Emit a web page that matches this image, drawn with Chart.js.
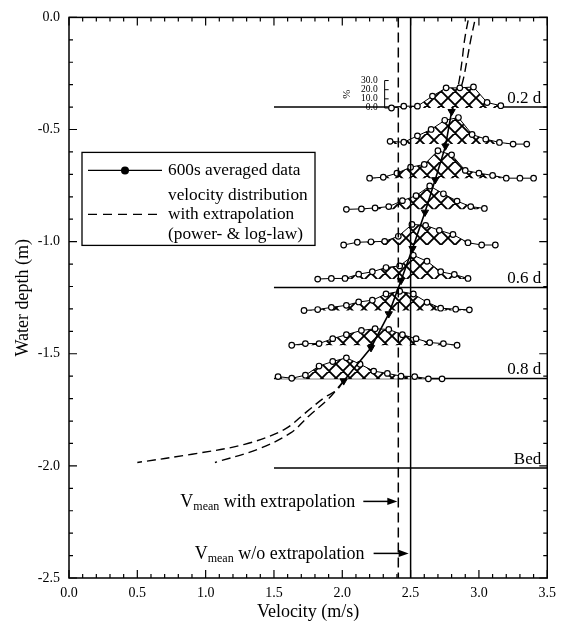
<!DOCTYPE html>
<html>
<head>
<meta charset="utf-8">
<script src="https://cdn.jsdelivr.net/npm/chart.js@4.4.0/dist/chart.umd.min.js"></script>
<style>
  html, body { margin: 0; padding: 0; background: #fff; }
  canvas { display: block; }
</style>
</head>
<body>
<canvas id="chart" width="563" height="626"></canvas>
<script>
const SERIF = '"Liberation Serif", "Times New Roman", serif';

// depth of each measured velocity distribution (m)
const rowDepths = [-0.404, -0.565, -0.717, -0.856, -1.015, -1.167, -1.307, -1.462, -1.612];

// velocity classes (m/s) of each distribution
const rowVelocities = [
  [2.36, 2.45, 2.55, 2.66, 2.76, 2.86, 2.96, 3.06, 3.16],
  [2.35, 2.45, 2.55, 2.65, 2.75, 2.85, 2.95, 3.05, 3.15, 3.25, 3.35],
  [2.20, 2.30, 2.40, 2.50, 2.60, 2.70, 2.80, 2.90, 3.00, 3.10, 3.20, 3.30, 3.40],
  [2.03, 2.14, 2.24, 2.34, 2.44, 2.54, 2.64, 2.74, 2.84, 2.94, 3.04],
  [2.01, 2.11, 2.21, 2.31, 2.41, 2.51, 2.61, 2.71, 2.81, 2.92, 3.02, 3.12],
  [1.82, 1.92, 2.02, 2.12, 2.22, 2.32, 2.42, 2.52, 2.62, 2.72, 2.82, 2.92],
  [1.72, 1.82, 1.92, 2.03, 2.12, 2.22, 2.32, 2.42, 2.52, 2.62, 2.72, 2.83, 2.93],
  [1.63, 1.73, 1.83, 1.93, 2.03, 2.14, 2.24, 2.34, 2.44, 2.54, 2.64, 2.74, 2.84],
  [1.53, 1.63, 1.73, 1.83, 1.93, 2.03, 2.13, 2.23, 2.33, 2.43, 2.53, 2.63, 2.73]
];

// share of samples in each velocity class (%)
const rowPercents = [
  [0, 2, 2, 13, 22, 22, 23, 6, 2.5],
  [3, 2, 9, 16, 26, 29, 10.5, 5.4, 1.8, 0, 0],
  [0, 1, 5.4, 12, 15, 30, 25.5, 8.5, 5.5, 3, 0, 0, 0],
  [0, 0.5, 1.5, 3, 9.5, 15, 25.5, 17, 9, 3, 1],
  [0, 3, 3.5, 4, 9.5, 22.5, 21.5, 16, 11.5, 2.5, 0, 0],
  [0, 0.7, 0.7, 5.4, 8, 12.6, 14.4, 26, 19.5, 8, 5, 0.7],
  [0, 1, 3.4, 5.6, 9.3, 11.2, 18, 21, 18, 9, 2.5, 1.4, 0.7],
  [0, 1.8, 1.8, 7.2, 11.5, 16.2, 18, 17.3, 11.5, 7.2, 2.9, 1.8, 0],
  [2.5, 0.7, 4, 14, 19, 23, 16, 8.5, 6, 3, 2.5, 0, 0]
];

// 600s averaged velocity profile
const meanVelocity = [2.80, 2.755, 2.68, 2.605, 2.514, 2.43, 2.34, 2.21, 2.01];
const meanDepth = [-0.420, -0.574, -0.724, -0.869, -1.031, -1.173, -1.322, -1.473, -1.621];

// extrapolation towards the surface and the bed (power- & log-law)
const surfacePowerV = [2.80, 2.85, 2.875, 2.895, 2.925];
const surfacePowerD = [-0.42, -0.30, -0.20, -0.10, 0.0];
const surfaceLogV = [2.80, 2.875, 2.91, 2.94, 2.975];
const surfaceLogD = [-0.42, -0.30, -0.20, -0.10, 0.0];
const bedPowerV = [2.01, 1.96, 1.863, 1.743, 1.574, 1.285, 0.90, 0.50];
const bedPowerD = [-1.621, -1.661, -1.698, -1.757, -1.838, -1.904, -1.948, -1.985];
const bedLogV = [2.01, 1.90, 1.76, 1.622, 1.381, 1.068];
const bedLogD = [-1.621, -1.70, -1.775, -1.853, -1.926, -1.985];

// depth-averaged velocities
const vMeanExtrap = 2.41;
const vMeanMeasured = 2.50;

// reference depths
const refLabels = ['0.2 d', '0.6 d', '0.8 d', 'Bed'];
const refDepths = [-0.40, -1.205, -1.61, -2.01];
const refStartV = 1.5;
const refEndV = 3.5;

// percent scale shown next to the top distribution
const pctTicks = [0, 10, 20, 30];

const PCT_TO_M = 0.00408;   // vertical size of 1 % in depth units

function zip(xs, ys) {
  return xs.map((v, i) => ({ x: v, y: ys[i] }));
}

function hatchPattern() {
  const s = 14;
  const c = document.createElement('canvas');
  c.width = s; c.height = s;
  const g = c.getContext('2d');
  g.fillStyle = '#fff';
  g.fillRect(0, 0, s, s);
  g.strokeStyle = '#000';
  g.lineWidth = 1.9;
  g.beginPath();
  for (const k of [-s, 0, s]) {
    g.moveTo(k, 0); g.lineTo(k + s, s);
    g.moveTo(k + s, 0); g.lineTo(k, s);
  }
  g.stroke();
  return document.getElementById('chart').getContext('2d').createPattern(c, 'repeat');
}
const hatch = hatchPattern();

const datasets = [];

datasets.push({
  data: zip(meanVelocity, meanDepth),
  borderColor: '#000', borderWidth: 1.6,
  pointStyle: 'triangle', rotation: 180, pointRadius: 4.2,
  pointBackgroundColor: '#000', pointBorderColor: '#000', pointBorderWidth: 1,
  fill: false, order: 0
});

datasets.push({
  data: [{ x: vMeanExtrap, y: 0 }, { x: vMeanExtrap, y: -2.5 }],
  borderColor: '#000', borderWidth: 1.5, borderDash: [10, 5],
  pointRadius: 0, fill: false, order: 1
});
datasets.push({
  data: [{ x: vMeanMeasured, y: 0 }, { x: vMeanMeasured, y: -2.5 }],
  borderColor: '#000', borderWidth: 1.5,
  pointRadius: 0, fill: false, order: 1
});

rowDepths.forEach((d, r) => {
  datasets.push({
    data: rowVelocities[r].map((v, i) => ({ x: v, y: d + rowPercents[r][i] * PCT_TO_M })),
    borderColor: '#000', borderWidth: 1,
    backgroundColor: hatch,
    fill: { value: d },
    pointStyle: 'circle', pointRadius: 2.8,
    pointBackgroundColor: '#fff', pointBorderColor: '#000', pointBorderWidth: 1.2,
    tension: 0, order: 2 + r * 0.01
  });
});

refDepths.forEach(d => {
  datasets.push({
    data: [{ x: refStartV, y: d }, { x: refEndV, y: d }],
    borderColor: '#000', borderWidth: 1.5,
    pointRadius: 0, fill: false, order: 3
  });
});

[[surfacePowerV, surfacePowerD], [surfaceLogV, surfaceLogD],
 [bedPowerV, bedPowerD], [bedLogV, bedLogD]].forEach(([vs, ds]) => {
  datasets.push({
    data: zip(vs, ds),
    borderColor: '#000', borderWidth: 1.4, borderDash: [9, 5],
    pointRadius: 0, fill: false, tension: 0.35, order: 4
  });
});

function arrow(ctx, x0, x1, y) {
  ctx.beginPath();
  ctx.moveTo(x0, y); ctx.lineTo(x1 - 8, y);
  ctx.stroke();
  ctx.beginPath();
  ctx.moveTo(x1, y); ctx.lineTo(x1 - 10, y - 3.6); ctx.lineTo(x1 - 10, y + 3.6);
  ctx.closePath();
  ctx.fill();
}

function vmeanText(ctx, rightX, y, rest) {
  ctx.textBaseline = 'alphabetic';
  ctx.textAlign = 'left';
  ctx.font = '18px ' + SERIF;
  const wRest = ctx.measureText(rest).width;
  const wV = ctx.measureText('V').width;
  ctx.font = '12px ' + SERIF;
  const wSub = ctx.measureText('mean').width;
  const x = rightX - wRest - wSub - wV;
  ctx.font = '18px ' + SERIF;
  ctx.fillText('V', x, y);
  ctx.font = '12px ' + SERIF;
  ctx.fillText('mean', x + wV, y + 3.5);
  ctx.font = '18px ' + SERIF;
  ctx.fillText(rest, x + wV + wSub, y);
}

const decorations = {
  id: 'decorations',
  afterDatasetsDraw(chart) {
    const { ctx, chartArea: a, scales: { x, y } } = chart;
    ctx.save();
    ctx.strokeStyle = '#000';
    ctx.fillStyle = '#000';

    // frame
    ctx.lineWidth = 1.5;
    ctx.strokeRect(a.left, a.top, a.right - a.left, a.bottom - a.top);

    // inward ticks on all four sides
    ctx.lineWidth = 1.2;
    ctx.beginPath();
    for (let i = 0; i <= 35; i++) {
      const px = x.getPixelForValue(i / 10);
      const len = i % 5 === 0 ? 8 : 4;
      ctx.moveTo(px, a.bottom); ctx.lineTo(px, a.bottom - len);
      ctx.moveTo(px, a.top); ctx.lineTo(px, a.top + len);
    }
    for (let i = 0; i <= 25; i++) {
      const py = y.getPixelForValue(-i / 10);
      const len = i % 5 === 0 ? 8 : 4;
      ctx.moveTo(a.left, py); ctx.lineTo(a.left + len, py);
      ctx.moveTo(a.right, py); ctx.lineTo(a.right - len, py);
    }
    ctx.stroke();

    // reference depth labels
    ctx.font = '17px ' + SERIF;
    ctx.textAlign = 'right';
    ctx.textBaseline = 'alphabetic';
    refLabels.forEach((t, i) => {
      ctx.fillText(t, a.right - 6, y.getPixelForValue(refDepths[i]) - 4.5);
    });

    // percent scale of the distributions
    const bx = x.getPixelForValue(2.31);
    const base = rowDepths[0];
    ctx.lineWidth = 1;
    ctx.beginPath();
    ctx.moveTo(bx, y.getPixelForValue(base));
    ctx.lineTo(bx, y.getPixelForValue(base + pctTicks[pctTicks.length - 1] * PCT_TO_M));
    pctTicks.forEach(p => {
      const py = y.getPixelForValue(base + p * PCT_TO_M);
      ctx.moveTo(bx, py); ctx.lineTo(bx + 4, py);
    });
    ctx.stroke();
    ctx.font = '9.5px ' + SERIF;
    ctx.textAlign = 'right';
    ctx.textBaseline = 'middle';
    pctTicks.forEach(p => {
      ctx.fillText(p.toFixed(1), bx - 7, y.getPixelForValue(base + p * PCT_TO_M));
    });
    ctx.save();
    ctx.translate(bx - 38, y.getPixelForValue(base + 15 * PCT_TO_M));
    ctx.rotate(-Math.PI / 2);
    ctx.textAlign = 'center';
    ctx.font = '11px ' + SERIF;
    ctx.fillText('%', 0, 0);
    ctx.restore();

    // legend
    const lx = a.left + 13, ly = a.top + 135;
    ctx.lineWidth = 1.3;
    ctx.strokeRect(lx, ly, 233, 93);
    ctx.beginPath();
    ctx.moveTo(lx + 6, ly + 18); ctx.lineTo(lx + 80, ly + 18);
    ctx.stroke();
    ctx.beginPath();
    ctx.arc(lx + 43, ly + 18, 4, 0, Math.PI * 2);
    ctx.fill();
    ctx.setLineDash([9, 6]);
    ctx.beginPath();
    ctx.moveTo(lx + 6, ly + 62); ctx.lineTo(lx + 80, ly + 62);
    ctx.stroke();
    ctx.setLineDash([]);
    ctx.font = '17.3px ' + SERIF;
    ctx.textAlign = 'left';
    ctx.textBaseline = 'middle';
    ctx.fillText('600s averaged data', lx + 86, ly + 18);
    ctx.fillText('velocity distribution', lx + 86, ly + 43);
    ctx.fillText('with extrapolation', lx + 86, ly + 62);
    ctx.fillText('(power- & log-law)', lx + 86, ly + 82);

    // depth-averaged velocity notes
    ctx.lineWidth = 1.5;
    const tip1 = x.getPixelForValue(vMeanExtrap) - 1;
    const y1 = a.top + 484;
    arrow(ctx, tip1 - 34, tip1, y1);
    vmeanText(ctx, tip1 - 42, y1 + 5.5, ' with extrapolation');
    const tip2 = x.getPixelForValue(vMeanMeasured) - 2;
    const y2 = a.top + 536;
    arrow(ctx, tip2 - 35, tip2, y2);
    vmeanText(ctx, tip2 - 44, y2 + 5.5, ' w/o extrapolation');

    ctx.restore();
  }
};

new Chart(document.getElementById('chart'), {
  type: 'line',
  data: { datasets },
  options: {
    responsive: false,
    animation: false,
    devicePixelRatio: 1,
    layout: { padding: { top: 13, right: 10, left: 0, bottom: 0 } },
    plugins: { legend: { display: false }, tooltip: { enabled: false } },
    scales: {
      x: {
        type: 'linear', min: 0, max: 3.5,
        afterFit: s => { s.height = 48; },
        grid: { display: false, drawTicks: false },
        border: { display: false },
        ticks: {
          stepSize: 0.5, padding: 7, color: '#000',
          font: { family: SERIF, size: 14 },
          callback: v => v.toFixed(1)
        },
        title: {
          display: true, text: 'Velocity (m/s)', color: '#000',
          font: { family: SERIF, size: 18 }, padding: { top: 0, bottom: 3 }
        }
      },
      y: {
        type: 'linear', min: -2.5, max: 0,
        afterFit: s => { s.width = 69; },
        grid: { display: false, drawTicks: false },
        border: { display: false },
        ticks: {
          stepSize: 0.5, padding: 9, color: '#000',
          font: { family: SERIF, size: 14 },
          callback: v => (Math.abs(v) < 1e-9 ? '0.0' : v.toFixed(1))
        },
        title: {
          display: true, text: 'Water depth (m)', color: '#000',
          font: { family: SERIF, size: 18 }, padding: { top: 12, bottom: 0 }
        }
      }
    }
  },
  plugins: [decorations]
});
</script>
</body>
</html>
